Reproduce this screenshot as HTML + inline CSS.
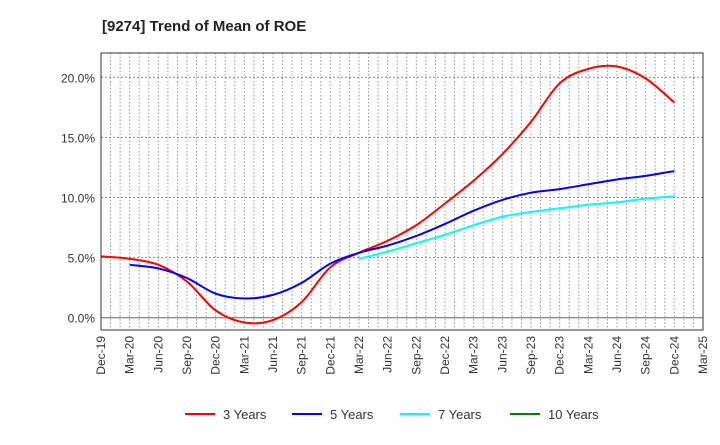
<!DOCTYPE html>
<html><head><meta charset="utf-8"><style>
body{margin:0;background:#fff;font-family:"Liberation Sans",sans-serif}
</style></head><body>
<svg id="c" width="720" height="440" xmlns="http://www.w3.org/2000/svg" font-family="Liberation Sans, sans-serif">
<text x="102" y="31" font-size="15" font-weight="bold" fill="#222">[9274]  Trend of Mean of ROE</text>
<g id="grid"></g><g id="axes"></g><g id="series"></g><g id="legend"></g>
</svg>
<script>
const xLabels=["Dec-19","Mar-20","Jun-20","Sep-20","Dec-20","Mar-21","Jun-21","Sep-21","Dec-21","Mar-22","Jun-22","Sep-22","Dec-22","Mar-23","Jun-23","Sep-23","Dec-23","Mar-24","Jun-24","Sep-24","Dec-24","Mar-25"];
const yTicks=[0,5,10,15,20];
const s3=[5.1,4.9,4.4,3.0,0.6,-0.4,-0.2,1.3,4.2,5.4,6.4,7.7,9.5,11.4,13.6,16.3,19.5,20.7,20.9,19.9,17.9];
const s5=[null,4.4,4.1,3.3,2.0,1.6,1.9,2.9,4.5,5.4,6.0,6.8,7.8,8.9,9.8,10.4,10.7,11.1,11.5,11.8,12.2];
const s7=[null,null,null,null,null,null,null,null,null,4.9,5.5,6.2,6.9,7.7,8.4,8.8,9.1,9.4,9.6,9.9,10.1];
const s10=[];
const names=["3 Years","5 Years","7 Years","10 Years"];
const colors=["#ff0000","#0000ff","#00ffff","#008000"];
const NS="http://www.w3.org/2000/svg";
const L=101,R=703,T=53,B=330;
const X=i=>L+i*(R-L)/21, Y=v=>317.7-v*(317.7-77.3)/20;
function mk(t,a,p){const e=document.createElementNS(NS,t);for(const k in a)e.setAttribute(k,a[k]);p.appendChild(e);return e;}
const g=document.getElementById('grid'),ax=document.getElementById('axes'),se=document.getElementById('series'),lg=document.getElementById('legend');
for(let m=1;m<63;m++){const x=L+m*(R-L)/63;const e=mk('line',{x1:x,x2:x,y1:T,y2:B,stroke:'#999','stroke-dasharray':'1.5,2','stroke-width':1},g);}
yTicks.forEach(v=>{const y=Y(v);const e=mk('line',{x1:L,x2:R,y1:y,y2:y,stroke:v==0?'#666':'#888','stroke-dasharray':v==0?'':'2,2','stroke-width':1},g);
const t=mk('text',{x:L-6,y:y+5,'text-anchor':'end','font-size':12,fill:'#333'},ax);t.textContent=v.toFixed(1)+'%';});
const fr=mk('rect',{x:L,y:T,width:R-L,height:B-T,fill:'none',stroke:'#333','stroke-width':1},ax);
xLabels.forEach((s,i)=>{const x=X(i);const t=mk('text',{x:0,y:0,'text-anchor':'end','font-size':12,fill:'#333',transform:`translate(${x+4},${B+6}) rotate(-90)`},ax);t.textContent=s;});
function path(arr){const p=[];arr.forEach((v,i)=>{if(v!=null)p.push([X(i),Y(v)]);});if(p.length<2)return '';let d=`M${p[0][0]},${p[0][1]}`;
for(let i=0;i<p.length-1;i++){const p0=p[i-1]||p[i],p1=p[i],p2=p[i+1],p3=p[i+2]||p2;
d+=` C${p1[0]+(p2[0]-p0[0])/6},${p1[1]+(p2[1]-p0[1])/6} ${p2[0]-(p3[0]-p1[0])/6},${p2[1]-(p3[1]-p1[1])/6} ${p2[0]},${p2[1]}`;}return d;}
[s3,s5,s7,s10].forEach((a,k)=>{const d=path(a);if(!d)return;const e=mk('path',{d:d,fill:'none',stroke:colors[k],'stroke-width':2},se);});
const lx=[185,292,400,510];
names.forEach((n,k)=>{const e=mk('line',{x1:lx[k],x2:lx[k]+30,y1:414,y2:414,stroke:colors[k],'stroke-width':2},lg);
const t=mk('text',{x:lx[k]+38,y:419,'font-size':13,fill:'#333'},lg);t.textContent=n;});
</script>
</body></html>
